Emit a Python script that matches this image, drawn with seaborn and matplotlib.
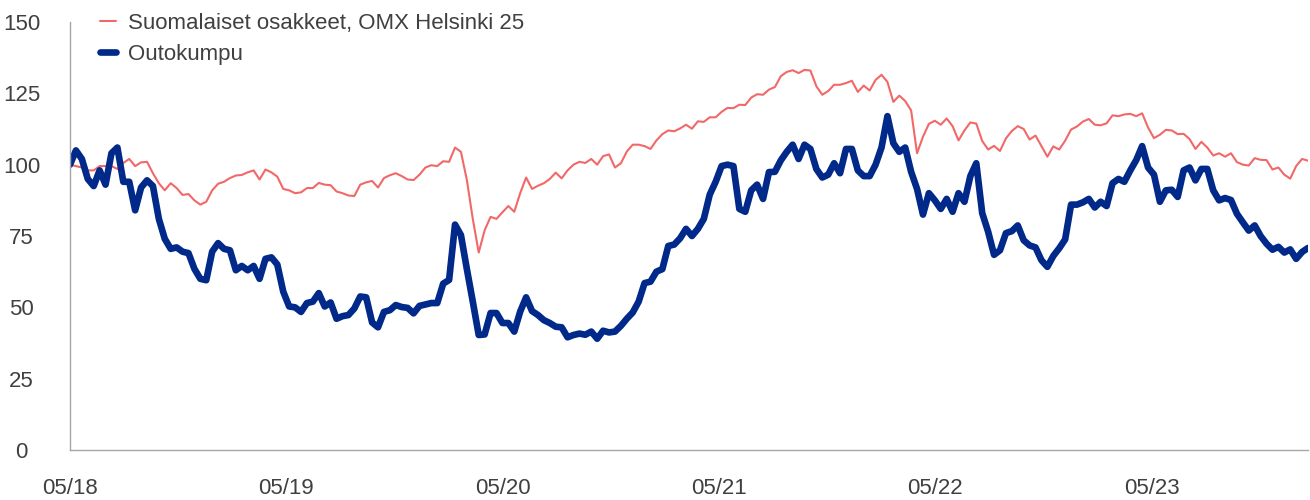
import numpy as np
import pandas as pd
import matplotlib
matplotlib.use('Agg')
import matplotlib.pyplot as plt
import seaborn as sns

# ---- data (one value every 10 days from 05/2018) ----
START = '2018-05-01'
STEP = '10D'

series_names = ['Suomalaiset osakkeet, OMX Helsinki 25', 'Outokumpu']

omx = [
    100, 99.5, 99, 98, 98, 99.5, 99.5, 99.5, 98.5, 100.6,
    102, 99.5, 100.8, 101, 97, 93.5, 91, 93.5, 91.8, 89.4,
    89.7, 87.5, 86, 87, 91, 93.3, 94, 95.3, 96.2, 96.4,
    97.3, 98, 94.8, 98.3, 97.3, 95.8,
    91.5, 91, 90, 90.3, 91.8, 91.8, 93.6, 93, 92.8, 90.6,
    90, 89.2, 89, 93, 93.8, 94.3, 92, 95.3, 96.3, 97,
    96, 94.8, 94.6, 96.5, 99, 99.8, 99.5, 101.2, 101, 106,
    104.5, 94.6, 81, 69.2, 77,
    81.7, 81, 83.3, 85.5, 83.5, 90, 95.5, 91.5, 92.6, 93.5,
    95, 97.2, 95.2, 98, 100, 101, 100.6, 102, 100, 103,
    103.6, 99, 100.5, 104.6, 107, 107, 106.5, 105.5, 108.5, 110.7,
    112, 111.7, 112.7, 114, 112.6, 115.2,
    115, 116.6, 116.6, 118.5, 119.9, 119.8, 121, 120.9, 123.5, 124.7,
    124.5, 126.3, 127.2, 131, 132.5, 133.1, 132.1, 133.2, 133, 127.5,
    124.5, 125.8, 128, 128, 128.6, 129.4, 125.5, 127.7, 126, 129.7,
    131.5, 129, 122, 124.2, 122.3,
    119, 104, 109.8, 114.3, 115.4, 114, 116.2, 113.5, 108.5, 112,
    114.8, 114.4, 108.3, 105.3, 106.6, 104.8, 109.2, 111.8, 113.5, 112.5,
    108.8, 110.2, 106.5, 102.8, 106.4, 105.3, 108.4, 112.3, 113.4, 115.1,
    116, 114, 113.8, 114.5, 117.3, 117,
    117.6, 117.8, 117, 118, 113, 109.3, 110.5, 112.2, 112, 110.7,
    110.8, 109, 105.5, 108, 106, 103.2, 104, 102.8, 104, 100.9,
    100, 99.7, 102.3, 101.7, 101.6, 98.3, 99, 96.5, 95.1, 99.5,
    102, 101.4,
]

outokumpu = [
    100, 105, 102, 95, 92.5, 98, 93, 104, 106, 94,
    94, 84, 92, 94.5, 92.5, 81, 74, 70.5, 71, 69.5,
    69, 63.5, 60, 59.5, 69.5, 72.5, 70.5, 70, 63, 64.5,
    63, 64.5, 60, 67, 67.5, 65,
    55.5, 50.3, 50, 48.4, 51.5, 52, 55, 50.3, 51.7, 46,
    46.9, 47.3, 49.6, 53.8, 53.5, 44.7, 43, 48.4, 49, 50.8,
    50.1, 49.8, 47.9, 50.5, 51, 51.5, 51.5, 58.3, 59.6, 79,
    75.3, 63.4, 52, 40.3, 40.5,
    48, 48, 44.5, 44.5, 41.5, 48.5, 53.5, 48.7, 47.3, 45.5,
    44.5, 43.2, 43, 39.5, 40.3, 40.8, 40.4, 41.5, 39, 41.8,
    41.2, 41.5, 43.5, 46, 48.2, 52, 58.5, 59, 62.5, 63.4,
    71.5, 72, 74.2, 77.5, 75, 77.5,
    81, 89.5, 94, 99.5, 100, 99.5, 84.5, 83.5, 91, 93,
    88, 97.4, 97.5, 101.5, 104.5, 107, 102, 107, 105.5, 98.5,
    95.5, 96.5, 100.5, 97, 105.5, 105.5, 98, 96, 96, 100,
    106, 117, 107.5, 104.5, 106,
    97.5, 91.5, 82.5, 90, 87.5, 84.5, 88, 83.5, 90, 87,
    96, 100.5, 83, 76.5, 68.4, 70, 76, 76.7, 78.7, 73.5,
    71.7, 71, 66.5, 64.2, 68, 70.7, 73.8, 86, 86, 86.8,
    88, 85, 87, 85.5, 93.5, 95,
    94, 98, 101.6, 106.5, 99, 96.5, 87, 91, 91.2, 88.7,
    98, 99, 94.5, 98.5, 98.5, 91, 87.5, 88.3, 87.6, 82.8,
    79.8, 76.9, 78.7, 75, 72.3, 70.2, 71.2, 69.2, 70.3, 67,
    69.4, 70.8,
]

y_ticks = [0, 25, 50, 75, 100, 125, 150]
x_tick_dates = ['2018-05-01', '2019-05-01', '2020-05-01',
                '2021-05-01', '2022-05-01', '2023-05-01']
x_tick_labels = ['05/18', '05/19', '05/20', '05/21', '05/22', '05/23']

# ---- frame ----
dates = pd.date_range(START, periods=len(omx), freq=STEP)
n = len(dates)
df = pd.DataFrame({
    'date': list(dates) + list(dates),
    'value': omx + outokumpu,
    'series': [series_names[0]] * n + [series_names[1]] * n,
})

sns.set_style('white')
plt.rcParams['font.family'] = ['Liberation Sans', 'DejaVu Sans']

W, H = 1310, 500
fig = plt.figure(figsize=(W / 100, H / 100), dpi=100)
ax = fig.add_axes([70 / W, 50 / H, 1238 / W, 428 / H])

RED = '#F26868'
BLUE = '#00298A'
sns.lineplot(data=df[df['series'] == series_names[0]], x='date', y='value',
             color=RED, linewidth=1.5, ax=ax, label=series_names[0])
sns.lineplot(data=df[df['series'] == series_names[1]], x='date', y='value',
             color=BLUE, linewidth=4.8, ax=ax, label=series_names[1])

ax.set_xlim(dates[0], dates[-1])
ax.set_ylim(0, 150)
ax.set_yticks(y_ticks)
ax.set_xticks(pd.to_datetime(x_tick_dates))
ax.set_xticklabels(x_tick_labels)
ax.set_xlabel('')
ax.set_ylabel('')

TXT = '#404040'
ax.tick_params(axis='both', length=0, labelsize=16, labelcolor=TXT)
ax.tick_params(axis='y', pad=35)
ax.tick_params(axis='x', pad=20)
for t in ax.get_yticklabels():
    t.set_horizontalalignment('center')

for s in ['top', 'right']:
    ax.spines[s].set_visible(False)
for s in ['left', 'bottom']:
    ax.spines[s].set_color('#a6a6a6')
    ax.spines[s].set_linewidth(1.0)

leg = ax.legend(loc='upper left', bbox_to_anchor=(100 / W, 1 - 13 / H),
                bbox_transform=fig.transFigure, frameon=False, fontsize=16,
                handlelength=0.72, handletextpad=0.55, borderpad=0,
                borderaxespad=0, labelspacing=0.45)
for t in leg.get_texts():
    t.set_color(TXT)

fig.savefig('out.png', dpi=100)
